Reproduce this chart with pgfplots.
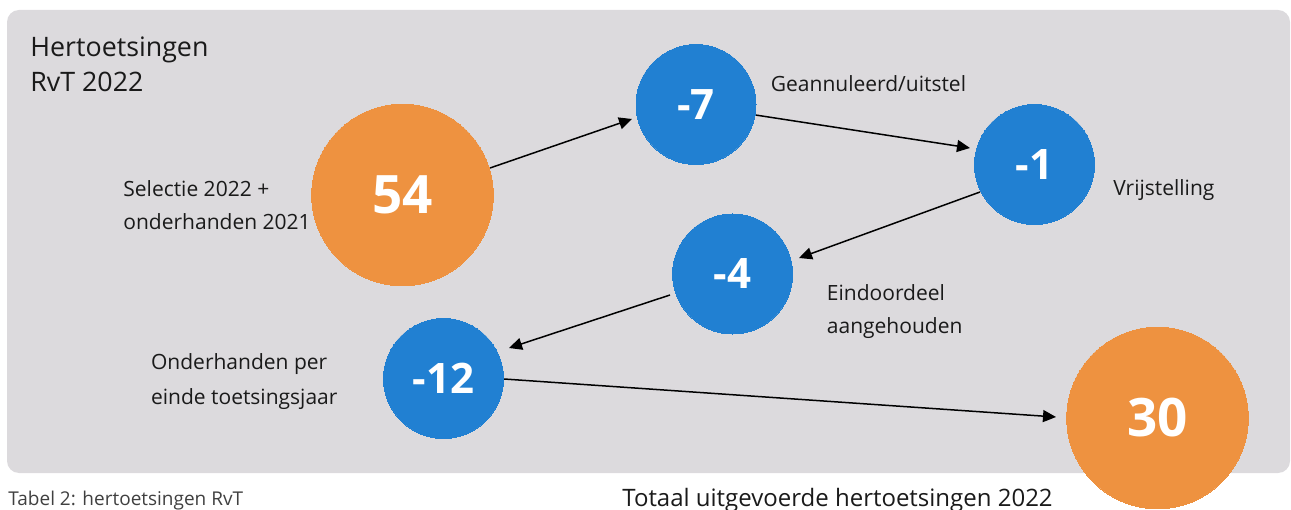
\documentclass[border=0pt]{standalone}
\usepackage{pgfplots}
\pgfplotsset{compat=1.18}
\usepackage{fontspec}
\setmainfont{Open Sans}
\usetikzlibrary{arrows.meta}
\definecolor{bgc}{HTML}{DCDADD}
\definecolor{orng}{HTML}{EE9240}
\definecolor{blu}{HTML}{2180D2}
\definecolor{txt}{HTML}{1A1A1A}
\begin{document}
\begin{tikzpicture}
\begin{axis}[scale only axis, width=645.5pt, height=254.5pt,
  xmin=0, xmax=1291, ymin=0, ymax=509, hide axis, clip=false,
  anchor=south west, at={(0,0)}]
\fill[bgc, rounded corners=6pt] (axis cs:7,36) rectangle (axis cs:1290,499);
% bubbles
\addplot[orng, only marks, mark=*, mark size=45.4pt, mark options={draw=orng, fill=orng, line width=0pt},
  nodes near coords, point meta=explicit symbolic,
  every node near coord/.style={anchor=center, text=white, font=\fontsize{26.5}{30}\selectfont\bfseries}]
  coordinates {(402.5,314) [54] (1157.5,91) [30]};
\addplot[blu, only marks, mark=*, mark size=30pt, mark options={draw=blu, fill=blu, line width=0pt},
  nodes near coords, point meta=explicit symbolic,
  every node near coord/.style={anchor=center, text=white, font=\fontsize{21}{24}\selectfont\bfseries}]
  coordinates {(696,404.5) [-7] (1034.5,344.5) [-1] (732.6,235) [-4] (443.5,130.5) [-12]};
% arrows
\addplot[black, line width=0.75pt, -{Triangle[length=6.5pt,width=6pt]}] coordinates {(490,341) (632,390)};
\addplot[black, line width=0.75pt, -{Triangle[length=6.5pt,width=6pt]}] coordinates {(755.5,394) (970,361)};
\addplot[black, line width=0.75pt, -{Triangle[length=6.5pt,width=6pt]}] coordinates {(980,317) (799,251)};
\addplot[black, line width=0.75pt, -{Triangle[length=6.5pt,width=6pt]}] coordinates {(670,214) (509,161)};
\addplot[black, line width=0.75pt, -{Triangle[length=6.5pt,width=6pt]}] coordinates {(504,130) (1056,92)};
% texts
\tikzset{lbl/.style={anchor=base west, text=txt, inner sep=0pt, font=\fontsize{10.5}{12}\selectfont}}
\node[anchor=base west, inner sep=0pt, text=txt, font=\fontsize{13.4}{16}\selectfont] at (axis cs:30,452) {Hertoetsingen};
\node[anchor=base west, inner sep=0pt, text=txt, font=\fontsize{13.4}{16}\selectfont] at (axis cs:30,417) {RvT 2022};
\node[lbl] at (axis cs:123,312) {Selectie 2022 +};
\node[lbl] at (axis cs:123,279) {onderhanden 2021};
\node[lbl] at (axis cs:770.5,417) {Geannuleerd/uitstel};
\node[lbl] at (axis cs:1113,313) {Vrijstelling};
\node[lbl] at (axis cs:826.5,209) {Eindoordeel};
\node[lbl] at (axis cs:826.5,176) {aangehouden};
\node[lbl] at (axis cs:150.7,140) {Onderhanden per};
\node[lbl] at (axis cs:150.7,105) {einde toetsingsjaar};
\node[anchor=base west, text=black!75, font=\fontsize{9.5}{11}\selectfont, inner sep=0pt] at (axis cs:8,4) {Tabel 2: hertoetsingen RvT};
\node[anchor=base west, text=txt, font=\fontsize{12}{14}\selectfont, inner sep=0pt] at (axis cs:622,3) {Totaal uitgevoerde hertoetsingen 2022};
\end{axis}
\pgfresetboundingbox
\useasboundingbox (0,0) rectangle (645.5pt,254.5pt);
\end{tikzpicture}
\end{document}
